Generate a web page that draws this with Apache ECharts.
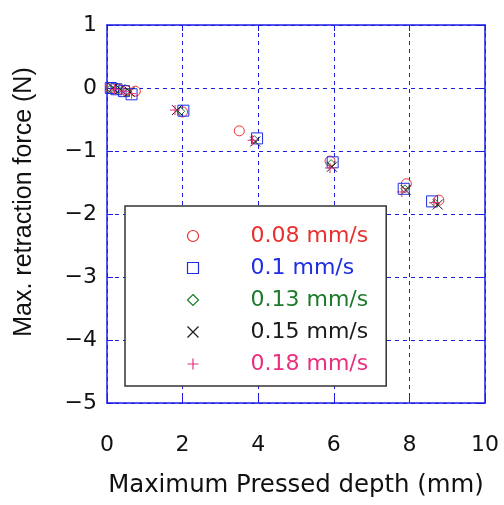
<!DOCTYPE html>
<html>
<head>
<meta charset="utf-8">
<script src="https://cdn.jsdelivr.net/npm/echarts@6/dist/echarts.min.js"></script>
<style>
  html, body { margin: 0; padding: 0; background: #fff; }
  #main { width: 504px; height: 505px; }
</style>
</head>
<body>
<div id="main"></div>
<script>
var myChart = echarts.init(document.getElementById('main'));

// series names (pulling speed)
const names = ['0.08 mm/s', '0.1 mm/s', '0.13 mm/s', '0.15 mm/s', '0.18 mm/s'];
const colors = ['#e8302e', '#1e2ee0', '#1d7a2c', '#1a1a1a', '#e8307e'];

// [max pressed depth (mm), max retraction force (N)]
const v008 = [[0.1, 0], [0.3, -0.02], [0.5, -0.04], [0.75, -0.05], [2.0, -0.38], [3.5, -0.68], [5.9, -1.16], [7.92, -1.52], [8.78, -1.78]];
const v010 = [[0.1, 0], [0.25, -0.02], [0.45, -0.05], [0.65, -0.1], [2.02, -0.36], [3.97, -0.8], [5.97, -1.18], [7.85, -1.6], [8.6, -1.8]];
const v013 = [[0.1, -0.01], [0.3, -0.03], [0.55, -0.07], [1.95, -0.37], [3.9, -0.82], [5.93, -1.2], [7.88, -1.6], [8.68, -1.83]];
const v015 = [[0.15, 0], [0.35, -0.02], [0.6, -0.06], [1.85, -0.35], [3.92, -0.85], [5.95, -1.25], [7.9, -1.62], [8.75, -1.85]];
const v018 = [[0.2, -0.02], [0.45, -0.05], [0.65, -0.09], [1.8, -0.35], [3.85, -0.83], [5.9, -1.27], [7.8, -1.65], [8.65, -1.82]];

const values = [v008, v010, v013, v015, v018];
const symbols = ['circle', 'rect', 'diamond', 'path://M0,0L10,10M0,10L10,0', 'path://M5,0L5,10M0,5L10,5'];
const sizes = [10, 11, 8, 10, 10];

const blue = '#1c1ce6';
const font = 'DejaVu Sans';
const minus = v => (v < 0 ? '\u2212' + Math.abs(v) : String(v));

var option = {
    animation: false,
    grid: { left: 107, top: 25, right: 19, bottom: 102 },
    legend: {
        orient: 'vertical',
        left: 125,
        top: 206,
        padding: [19, 18, 11, 60],
        backgroundColor: '#fff',
        borderColor: '#333',
        borderWidth: 1.5,
        itemWidth: 11,
        itemHeight: 11,
        itemGap: 10,
        textStyle: { fontSize: 22, fontFamily: font, lineHeight: 22, padding: [0, 0, 0, 47] },
        data: names.map((n, i) => ({
            name: n,
            itemStyle: { color: 'none', borderColor: colors[i], borderWidth: 1.2, opacity: 1 },
            textStyle: { color: colors[i] }
        }))
    },
    xAxis: [{
        type: 'value', min: 0, max: 10, interval: 2, position: 'bottom',
        name: 'Maximum Pressed depth (mm)', nameLocation: 'middle', nameGap: 71,
        nameTextStyle: { fontSize: 24.4, fontFamily: font, color: '#111' },
        axisLine: { onZero: false, lineStyle: { color: blue, width: 1.5 } },
        axisTick: { inside: true, length: 6, lineStyle: { color: blue } },
        axisLabel: { fontSize: 22, fontFamily: font, color: '#111', margin: 31, formatter: minus },
        splitLine: { lineStyle: { color: blue, type: [4, 4], width: 1 } }
    }, {
        type: 'value', min: 0, max: 10, interval: 2, position: 'top',
        axisLine: { onZero: false, lineStyle: { color: blue, width: 1.5 } },
        axisTick: { inside: true, length: 6, lineStyle: { color: blue } },
        axisLabel: { show: false }, splitLine: { show: false }
    }],
    yAxis: [{
        type: 'value', min: -5, max: 1, interval: 1, position: 'left',
        name: 'Max. retraction force (N)', nameLocation: 'middle', nameGap: 70,
        nameTextStyle: { fontSize: 25, fontFamily: 'Liberation Sans', color: '#111', padding: [0, 0, 0, 24] },
        axisLine: { show: true, onZero: false, lineStyle: { color: blue, width: 1.5 } },
        axisTick: { show: true, inside: true, length: 6, lineStyle: { color: blue } },
        axisLabel: { fontSize: 22, fontFamily: font, color: '#111', margin: 10, formatter: minus },
        splitLine: { lineStyle: { color: blue, type: [4, 4], width: 1 } }
    }, {
        type: 'value', min: -5, max: 1, interval: 1, position: 'right',
        axisLine: { show: true, onZero: false, lineStyle: { color: blue, width: 1.5 } },
        axisTick: { show: true, inside: true, length: 6, lineStyle: { color: blue } },
        axisLabel: { show: false }, splitLine: { show: false }
    }],
    series: values.map((d, i) => ({
        name: names[i],
        type: 'scatter',
        data: d,
        symbol: symbols[i],
        symbolSize: sizes[i],
        itemStyle: { color: 'none', borderColor: colors[i], borderWidth: 1, opacity: 1 }
    }))
};

myChart.setOption(option);
</script>
</body>
</html>
